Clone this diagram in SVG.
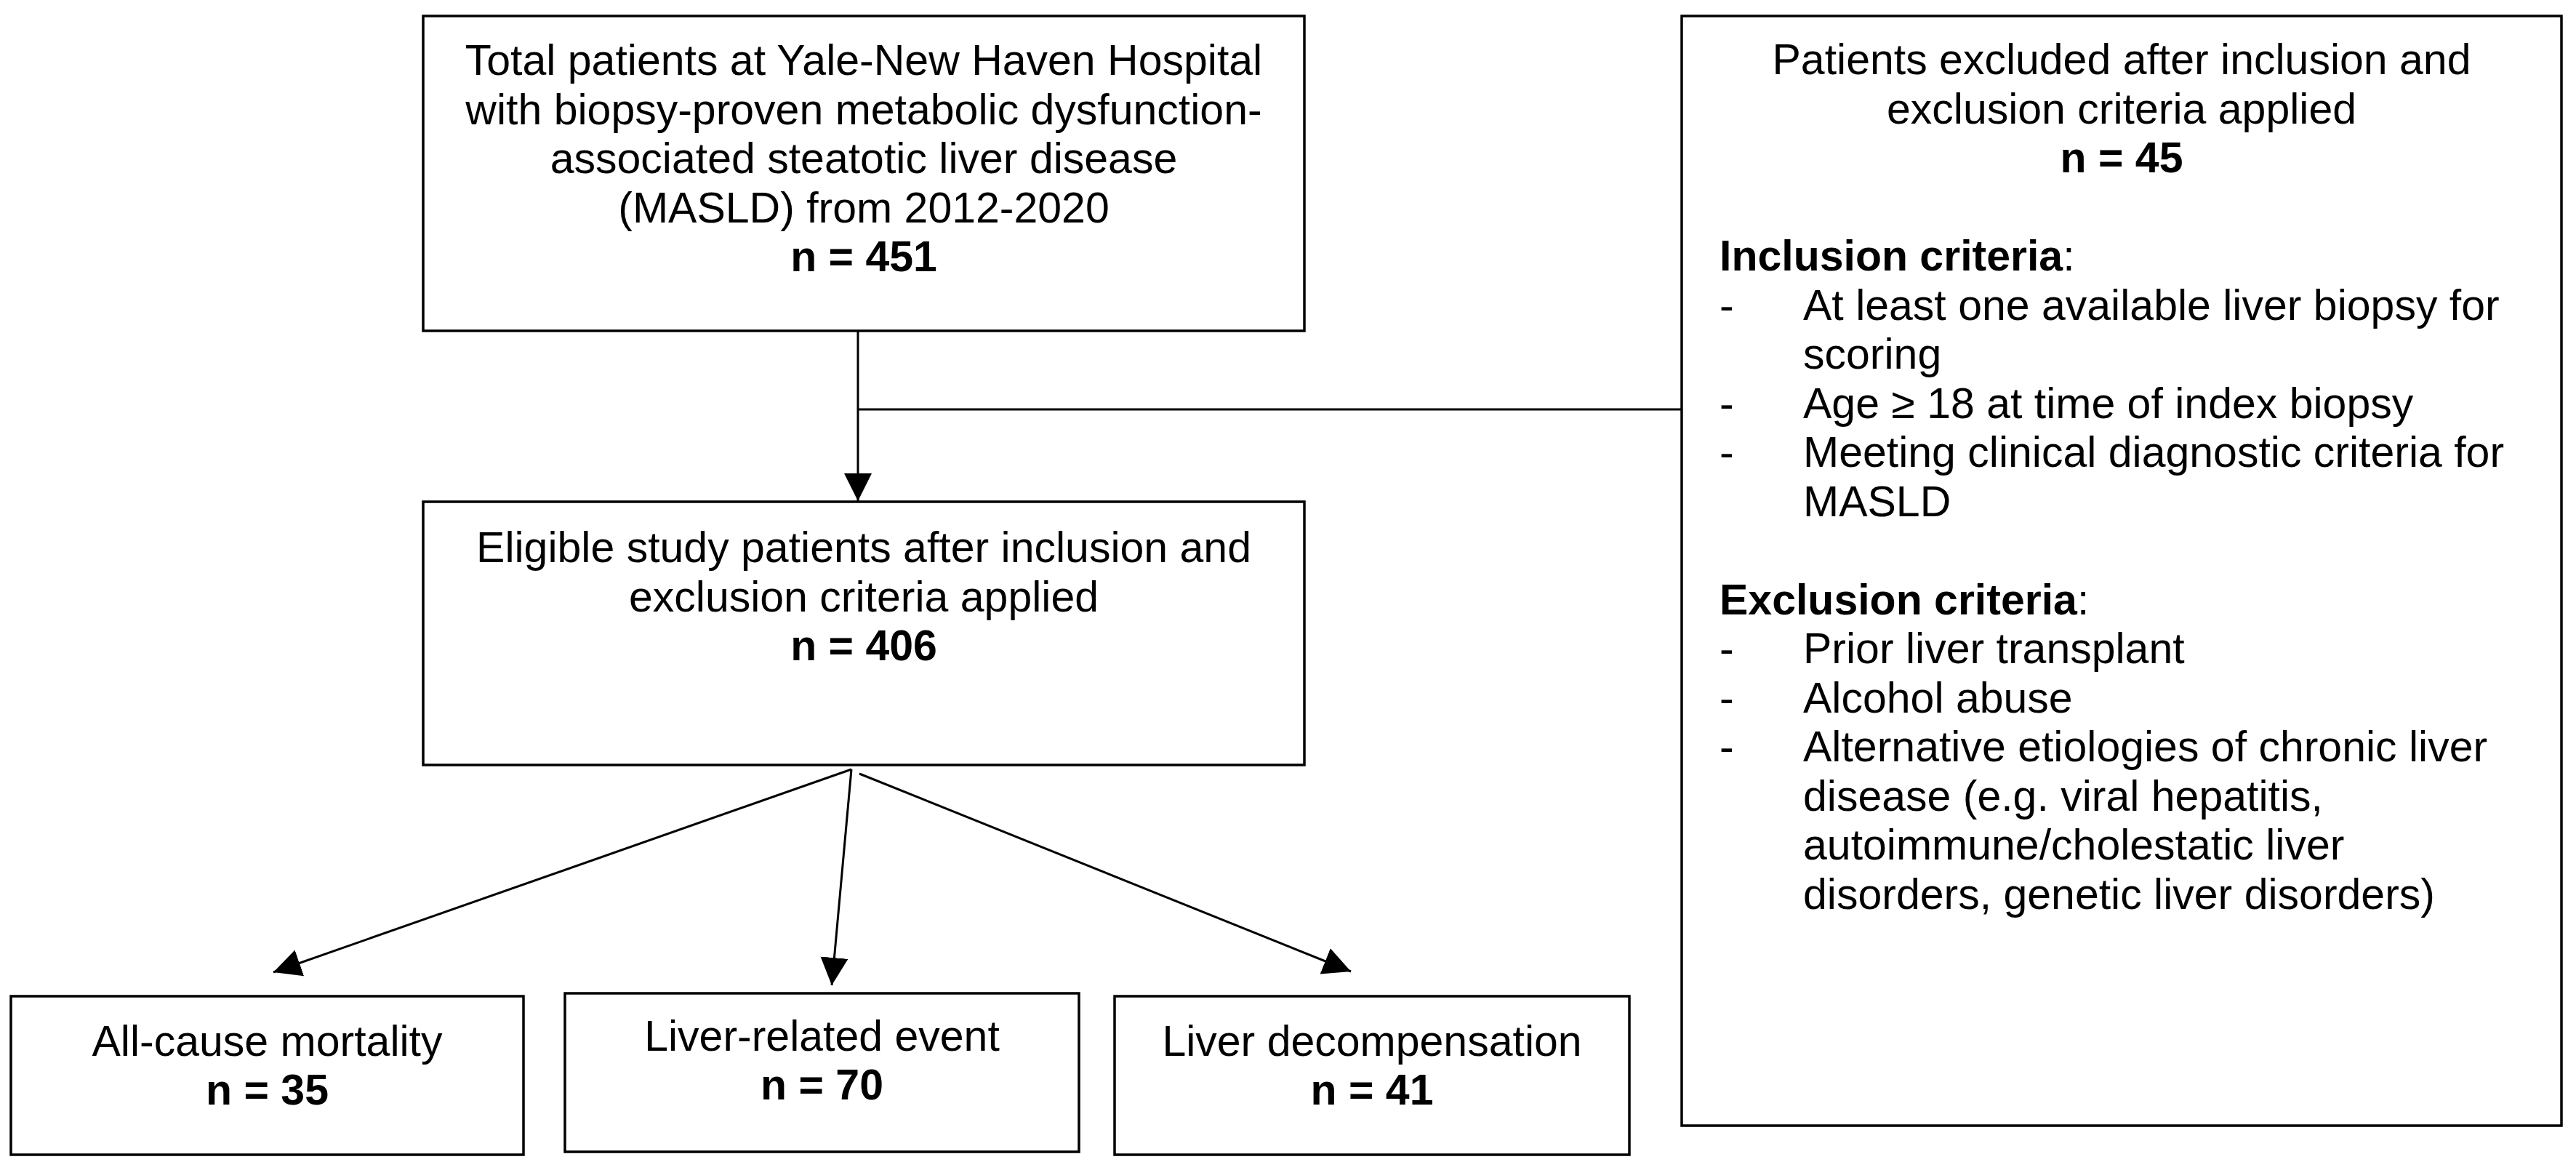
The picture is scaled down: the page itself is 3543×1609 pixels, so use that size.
<svg xmlns="http://www.w3.org/2000/svg" width="3543" height="1609" viewBox="0 0 3543 1609">
<style>
.box{fill:#fff;stroke:#000;stroke-width:3.5}
text{font-family:"Liberation Sans",Arial,sans-serif;font-size:59px;fill:#000}
.c{text-anchor:middle}
.b{font-weight:bold}
.ln{fill:none;stroke:#000;stroke-width:3}
</style>
<defs>
<marker id="ah" markerUnits="userSpaceOnUse" markerWidth="40" markerHeight="40" refX="38" refY="19" orient="auto">
<path d="M0,0 L38,19 L0,38 Z" fill="#000"/>
</marker>
</defs>
<rect width="3543" height="1609" fill="#fff"/>
<g id="connectors">
<line class="ln" x1="1180" y1="455" x2="1180" y2="689" marker-end="url(#ah)"/>
<line class="ln" x1="1180" y1="563" x2="2313" y2="563"/>
<line class="ln" x1="1171" y1="1058" x2="376" y2="1337" marker-end="url(#ah)"/>
<line class="ln" x1="1171" y1="1058" x2="1144" y2="1355" marker-end="url(#ah)"/>
<line class="ln" x1="1182" y1="1064" x2="1858" y2="1336" marker-end="url(#ah)"/>
</g>
<g id="total">
<rect class="box" x="582" y="22" width="1212" height="433"/>
<text class="c" x="1188" y="103">Total patients at Yale-New Haven Hospital</text>
<text class="c" x="1188" y="170.5">with biopsy-proven metabolic dysfunction-</text>
<text class="c" x="1188" y="238">associated steatotic liver disease</text>
<text class="c" x="1188" y="305.5">(MASLD) from 2012-2020</text>
<text class="c b" x="1188" y="373">n = 451</text>
</g>
<g id="eligible">
<rect class="box" x="582" y="690" width="1212" height="362"/>
<text class="c" x="1188" y="773">Eligible study patients after inclusion and</text>
<text class="c" x="1188" y="840.5">exclusion criteria applied</text>
<text class="c b" x="1188" y="908">n = 406</text>
</g>
<g id="excluded">
<rect class="box" x="2313" y="22" width="1210" height="1526"/>
<text class="c" x="2918" y="102">Patients excluded after inclusion and</text>
<text class="c" x="2918" y="169.5">exclusion criteria applied</text>
<text class="c b" x="2918" y="237">n = 45</text>
<text x="2365" y="372"><tspan class="b">Inclusion criteria</tspan>:</text>
<text x="2365" y="439.5">-</text>
<text x="2480" y="439.5">At least one available liver biopsy for</text>
<text x="2480" y="507">scoring</text>
<text x="2365" y="574.5">-</text>
<text x="2480" y="574.5">Age ≥ 18 at time of index biopsy</text>
<text x="2365" y="642">-</text>
<text x="2480" y="642">Meeting clinical diagnostic criteria for</text>
<text x="2480" y="709.5">MASLD</text>
<text x="2365" y="844.5"><tspan class="b">Exclusion criteria</tspan>:</text>
<text x="2365" y="912">-</text>
<text x="2480" y="912">Prior liver transplant</text>
<text x="2365" y="979.5">-</text>
<text x="2480" y="979.5">Alcohol abuse</text>
<text x="2365" y="1047">-</text>
<text x="2480" y="1047">Alternative etiologies of chronic liver</text>
<text x="2480" y="1114.5">disease (e.g. viral hepatitis,</text>
<text x="2480" y="1182">autoimmune/cholestatic liver</text>
<text x="2480" y="1249.5">disorders, genetic liver disorders)</text>
</g>
<g id="mortality">
<rect class="box" x="15" y="1370" width="705" height="218"/>
<text class="c" x="367.5" y="1452">All-cause mortality</text>
<text class="c b" x="367.5" y="1519">n = 35</text>
</g>
<g id="liver-event">
<rect class="box" x="777" y="1366" width="707" height="218"/>
<text class="c" x="1130.5" y="1445">Liver-related event</text>
<text class="c b" x="1130.5" y="1512">n = 70</text>
</g>
<g id="decompensation">
<rect class="box" x="1533" y="1370" width="708" height="218"/>
<text class="c" x="1887" y="1452">Liver decompensation</text>
<text class="c b" x="1887" y="1519">n = 41</text>
</g>
</svg>
